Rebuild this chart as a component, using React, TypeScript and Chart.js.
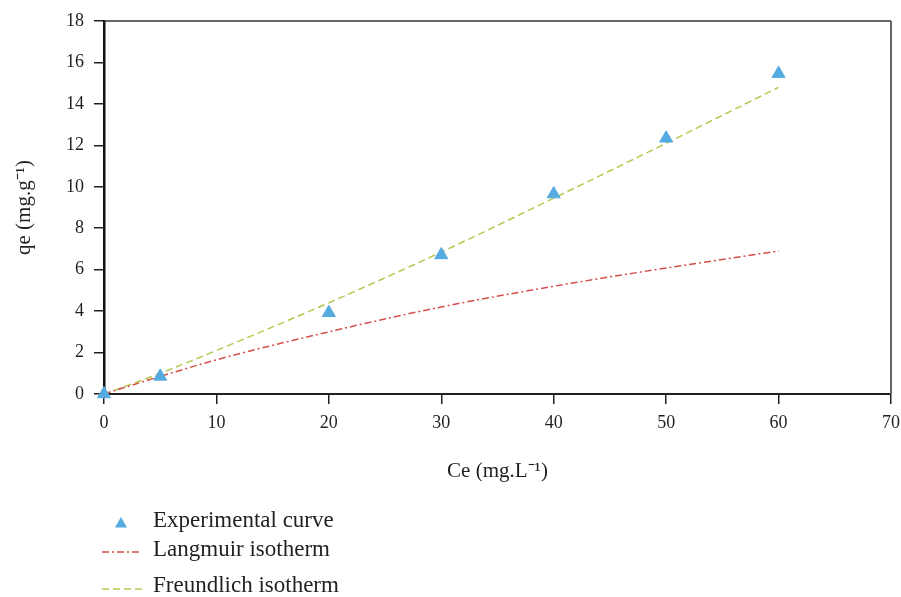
import React, { useEffect, useRef } from "react";
import { Chart, registerables } from "chart.js";

Chart.register(...registerables);

// ---- data ----
const expCe = [0, 5, 20, 30, 40, 50, 60];
const expQe = [0, 0.85, 3.92, 6.71, 9.65, 12.34, 15.46];
const modelCe = [0, 5, 10, 20, 30, 40, 50, 60];
const langmuirQe = [0, 0.85, 1.65, 3.0, 4.2, 5.2, 6.08, 6.9];
const freundlichQe = [0, 1.0, 2.1, 4.4, 6.85, 9.45, 12.1, 14.8];
const seriesLabels = ["Experimental curve", "Langmuir isotherm", "Freundlich isotherm"];
const xTitle = "Ce (mg.L\u207B\u00B9)";
const yTitle = "qe (mg.g\u207B\u00B9)";

const FONT = '"Liberation Serif", "Times New Roman", serif';
const TEXT = "#231f20";
const BLUE = "#55aadf";
const RED = "#d4504a";
const GREEN = "#b6c94f";

const toXY = (xs: number[], ys: number[]) => xs.map((x, i) => ({ x, y: ys[i] }));

const framePlugin = {
  id: "frame",
  beforeDatasetsDraw(chart: any) {
    const { ctx, chartArea: a } = chart;
    ctx.save();
    ctx.strokeStyle = "#333333";
    ctx.lineWidth = 1.5;
    ctx.beginPath();
    ctx.moveTo(a.left, a.top);
    ctx.lineTo(a.right, a.top);
    ctx.stroke();
    ctx.strokeStyle = "#666666";
    ctx.lineWidth = 2;
    ctx.beginPath();
    ctx.moveTo(a.right, a.top);
    ctx.lineTo(a.right, a.bottom);
    ctx.stroke();
    ctx.restore();
  },
};

const legendPlugin = {
  id: "customLegend",
  afterDraw(chart: any) {
    const { ctx } = chart;
    const ds = chart.data.datasets;
    const rows = [
      { ty: 520.5, sy: 524 },
      { ty: 550, sy: 552 },
      { ty: 586, sy: 589 },
    ];
    ctx.save();
    ds.forEach((d: any, i: number) => {
      const r = rows[i];
      if (!r) return;
      if (d.showLine) {
        ctx.strokeStyle = d.borderColor;
        ctx.lineWidth = d.borderWidth;
        ctx.setLineDash(d.borderDash || []);
        ctx.beginPath();
        ctx.moveTo(102, r.sy);
        ctx.lineTo(142, r.sy);
        ctx.stroke();
        ctx.setLineDash([]);
      } else {
        const rad = 7;
        const cx = 121;
        const cy = r.sy;
        ctx.fillStyle = d.backgroundColor;
        ctx.beginPath();
        ctx.moveTo(cx, cy - rad);
        ctx.lineTo(cx + rad * Math.sin(Math.PI / 3), cy + rad / 2);
        ctx.lineTo(cx - rad * Math.sin(Math.PI / 3), cy + rad / 2);
        ctx.closePath();
        ctx.fill();
      }
      ctx.fillStyle = TEXT;
      ctx.font = `23px ${FONT}`;
      ctx.textAlign = "left";
      ctx.textBaseline = "middle";
      ctx.fillText(d.label, 153, r.ty);
    });
    ctx.restore();
  },
};

export default function App() {
  const ref = useRef<HTMLCanvasElement | null>(null);

  useEffect(() => {
    if (!ref.current) return;
    const chart = new Chart(ref.current, {
      type: "scatter",
      data: {
        datasets: [
          {
            label: seriesLabels[0],
            data: toXY(expCe, expQe),
            pointStyle: "triangle",
            pointRadius: 7.5,
            backgroundColor: BLUE,
            borderColor: BLUE,
            borderWidth: 1,
            showLine: false,
            clip: false,
            order: 0,
          },
          {
            label: seriesLabels[1],
            data: toXY(modelCe, langmuirQe),
            showLine: true,
            pointRadius: 0,
            borderColor: RED,
            backgroundColor: RED,
            borderWidth: 1.5,
            borderDash: [7, 3, 2, 3],
            tension: 0.4,
            cubicInterpolationMode: "monotone",
            order: 1,
          },
          {
            label: seriesLabels[2],
            data: toXY(modelCe, freundlichQe),
            showLine: true,
            pointRadius: 0,
            borderColor: GREEN,
            backgroundColor: GREEN,
            borderWidth: 1.5,
            borderDash: [7, 4],
            tension: 0.4,
            cubicInterpolationMode: "monotone",
            order: 1,
          },
        ] as any,
      },
      options: {
        animation: false,
        responsive: false,
        layout: { padding: { top: 21, right: 10, left: 0, bottom: 0 } },
        plugins: {
          legend: { display: false },
          tooltip: { enabled: false },
        },
        scales: {
          x: {
            type: "linear",
            min: 0,
            max: 70,
            ticks: { stepSize: 10, color: TEXT, font: { family: FONT, size: 18 }, padding: 8, maxRotation: 0 },
            grid: { drawOnChartArea: false, drawTicks: true, tickLength: 10, color: TEXT, lineWidth: 1.5 },
            border: { color: TEXT, width: 2 },
            title: {
              display: true,
              text: xTitle,
              color: TEXT,
              font: { family: FONT, size: 21 },
              padding: { top: 0, bottom: 113 },
            },
            afterFit(scale: any) {
              scale.height = 203;
              scale.paddingRight = 0;
              scale.paddingLeft = 0;
            },
          },
          y: {
            type: "linear",
            min: 0,
            max: 18,
            ticks: { stepSize: 2, color: TEXT, font: { family: FONT, size: 18 }, padding: 10 },
            grid: { drawOnChartArea: false, drawTicks: true, tickLength: 10, color: TEXT, lineWidth: 1.5 },
            border: { color: "#111111", width: 2.5 },
            title: {
              display: true,
              text: yTitle,
              color: TEXT,
              font: { family: FONT, size: 21 },
              padding: { top: 12, bottom: 0 },
            },
            afterFit(scale: any) {
              scale.width = 104;
            },
          },
        },
      },
      plugins: [framePlugin, legendPlugin],
    } as any);
    return () => chart.destroy();
  }, []);

  return (
    <div style={{ position: "absolute", left: 0, top: 0, width: 901, height: 597, background: "#ffffff" }}>
      <canvas ref={ref} width={901} height={597} style={{ display: "block" }} />
    </div>
  );
}
